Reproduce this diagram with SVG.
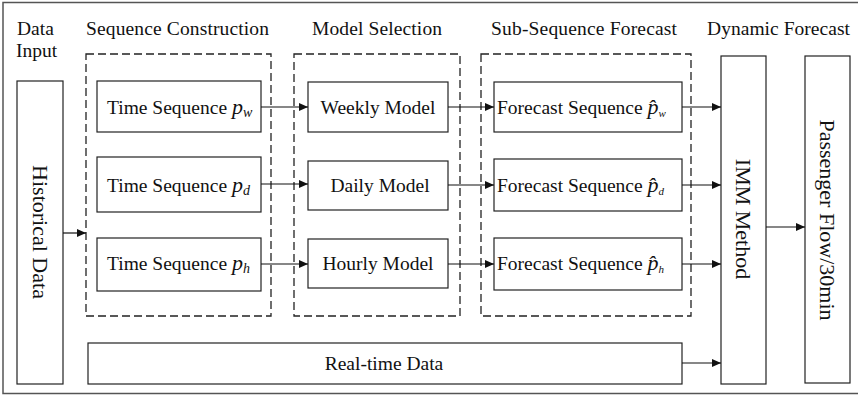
<svg xmlns="http://www.w3.org/2000/svg" width="858" height="395" viewBox="0 0 858 395">
<defs>
<style>
.t{font-family:"Liberation Serif","Times New Roman",serif;fill:#111;}
.ttl{font-size:19.5px;}
.bx{font-size:19.5px;}
.big{font-size:22px;}
.box{fill:#fff;stroke:#222;stroke-width:1.2;}
.dash{fill:none;stroke:#222;stroke-width:1.3;stroke-dasharray:8 4;}
.con{stroke:#111;stroke-width:1.2;fill:none;marker-end:url(#ah);}
</style>
<marker id="ah" markerWidth="10" markerHeight="8" refX="9" refY="4" orient="auto" markerUnits="userSpaceOnUse">
<path d="M0,0 L9,4 L0,8 Z" fill="#111"/>
</marker>
</defs>
<rect width="858" height="395" fill="#fff"/>
<rect x="3" y="2.5" width="870" height="391" fill="none" stroke="#555" stroke-width="1.5"/>

<g id="titles">
<text class="t ttl" x="17" y="35">Data</text>
<text class="t ttl" x="16" y="57">Input</text>
<text class="t ttl" x="86" y="35" textLength="183">Sequence Construction</text>
<text class="t ttl" x="312" y="35" textLength="130">Model Selection</text>
<text class="t ttl" x="491" y="35" textLength="186">Sub-Sequence Forecast</text>
<text class="t ttl" x="707" y="35" textLength="143">Dynamic Forecast</text>
</g>

<g id="group-seq"><rect class="dash" x="86" y="54" width="185" height="262"/></g>
<g id="group-model"><rect class="dash" x="294" y="54" width="166" height="262"/></g>
<g id="group-forecast"><rect class="dash" x="481" y="54" width="210" height="262"/></g>

<g id="historical">
<rect class="box" x="17" y="81" width="46" height="303"/>
<text class="t big" transform="translate(33,232) rotate(90)" text-anchor="middle">Historical Data</text>
</g>

<g id="ts-w">
<rect class="box" x="97" y="81" width="164" height="51"/>
<text class="t bx" x="107" y="114">Time Sequence <tspan font-style="italic" font-size="22">p</tspan><tspan font-style="italic" font-size="14" dy="3">w</tspan></text>
</g>
<g id="ts-d">
<rect class="box" x="97" y="157" width="164" height="55"/>
<text class="t bx" x="107" y="192">Time Sequence <tspan font-style="italic" font-size="22">p</tspan><tspan font-style="italic" font-size="14" dy="3">d</tspan></text>
</g>
<g id="ts-h">
<rect class="box" x="97" y="238" width="164" height="53"/>
<text class="t bx" x="107" y="270">Time Sequence <tspan font-style="italic" font-size="22">p</tspan><tspan font-style="italic" font-size="14" dy="3">h</tspan></text>
</g>

<g id="weekly">
<rect class="box" x="308" y="82" width="140" height="50"/>
<text class="t bx" x="378" y="114" text-anchor="middle">Weekly Model</text>
</g>
<g id="daily">
<rect class="box" x="308" y="161" width="140" height="49"/>
<text class="t bx" x="380" y="192" text-anchor="middle">Daily Model</text>
</g>
<g id="hourly">
<rect class="box" x="308" y="239" width="140" height="49"/>
<text class="t bx" x="378" y="270" text-anchor="middle">Hourly Model</text>
</g>

<g id="fs-w">
<rect class="box" x="494" y="82" width="188" height="50"/>
<text class="t bx" x="497" y="114">Forecast Sequence <tspan font-style="italic" font-size="22">p̂</tspan><tspan font-style="italic" font-size="11" dy="3">w</tspan></text>
</g>
<g id="fs-d">
<rect class="box" x="494" y="159" width="188" height="52"/>
<text class="t bx" x="497" y="192">Forecast Sequence <tspan font-style="italic" font-size="22">p̂</tspan><tspan font-style="italic" font-size="11" dy="3">d</tspan></text>
</g>
<g id="fs-h">
<rect class="box" x="494" y="238" width="188" height="52"/>
<text class="t bx" x="497" y="270">Forecast Sequence <tspan font-style="italic" font-size="22">p̂</tspan><tspan font-style="italic" font-size="11" dy="3">h</tspan></text>
</g>

<g id="imm">
<rect class="box" x="721" y="56" width="45" height="328"/>
<text class="t big" transform="translate(736,219) rotate(90)" text-anchor="middle">IMM Method</text>
</g>
<g id="passenger">
<rect class="box" x="805" y="56" width="45" height="327"/>
<text class="t big" transform="translate(820,220) rotate(90)" text-anchor="middle">Passenger Flow/30min</text>
</g>
<g id="realtime">
<rect class="box" x="88" y="343" width="594" height="41"/>
<text class="t bx" x="384" y="370" text-anchor="middle">Real-time Data</text>
</g>

<g id="connectors">
<line class="con" x1="63" y1="233" x2="86" y2="233"/>
<line class="con" x1="261" y1="107" x2="308" y2="107"/>
<line class="con" x1="261" y1="184" x2="308" y2="184"/>
<line class="con" x1="261" y1="264" x2="308" y2="264"/>
<line class="con" x1="448" y1="107" x2="494" y2="107"/>
<line class="con" x1="448" y1="185" x2="494" y2="185"/>
<line class="con" x1="448" y1="264" x2="494" y2="264"/>
<line class="con" x1="682" y1="107" x2="721" y2="107"/>
<line class="con" x1="682" y1="185" x2="721" y2="185"/>
<line class="con" x1="682" y1="264" x2="721" y2="264"/>
<line class="con" x1="766" y1="227" x2="805" y2="227"/>
<line class="con" x1="682" y1="363" x2="721" y2="363"/>
</g>
</svg>
